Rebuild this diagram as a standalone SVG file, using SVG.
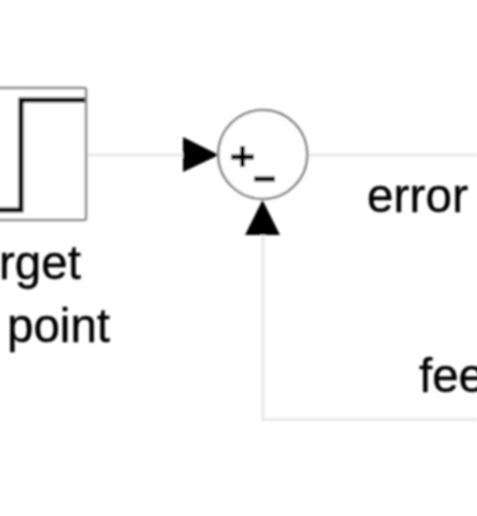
<svg xmlns="http://www.w3.org/2000/svg" width="477" height="516" viewBox="0 0 477 516">
<defs>
<style>
.wire{fill:none;stroke:#e8e8e8;stroke-width:3}
.lbl{font-family:"Liberation Sans",Arial,sans-serif;font-size:47.500px;fill:#000;stroke:#000;stroke-width:0.400}
.head{fill:#000}
</style>
<filter id="soft" x="-5%" y="-5%" width="110%" height="110%"><feGaussianBlur stdDeviation="0.8"/></filter>
</defs>
<rect width="477" height="516" fill="#fff"/>
<g filter="url(#soft)">
<g id="connectors">
<path class="wire" d="M86 155H184"/>
<path class="wire" d="M308 155H477"/>
<path class="wire" d="M263 234V419.500H477"/>
<path class="head" d="M183 137L219 155L183 172Z"/>
<path class="head" d="M262.500 200L280 235H245Z"/>
</g>
<g id="step-block">
<rect x="-10" y="88" width="96" height="132" rx="2" fill="#fff" stroke="#888" stroke-width="2.500"/>
<path d="M-5 210H21V100H85" fill="none" stroke="#000" stroke-width="5"/>
<text class="lbl" x="-1" y="279">rget</text>
<text class="lbl" x="7" y="342">point</text>
</g>
<g id="sum">
<circle cx="262.700" cy="154.500" r="44.500" fill="#fff" stroke="#888" stroke-width="2.500"/>
<path d="M231 157H254M242.500 146V167M254 179H275" fill="none" stroke="#000" stroke-width="5"/>
</g>
<g id="labels">
<text class="lbl" x="367" y="212" textLength="101">error</text>
<text class="lbl" x="419" y="392">fee</text>
</g>
</g>
</svg>
